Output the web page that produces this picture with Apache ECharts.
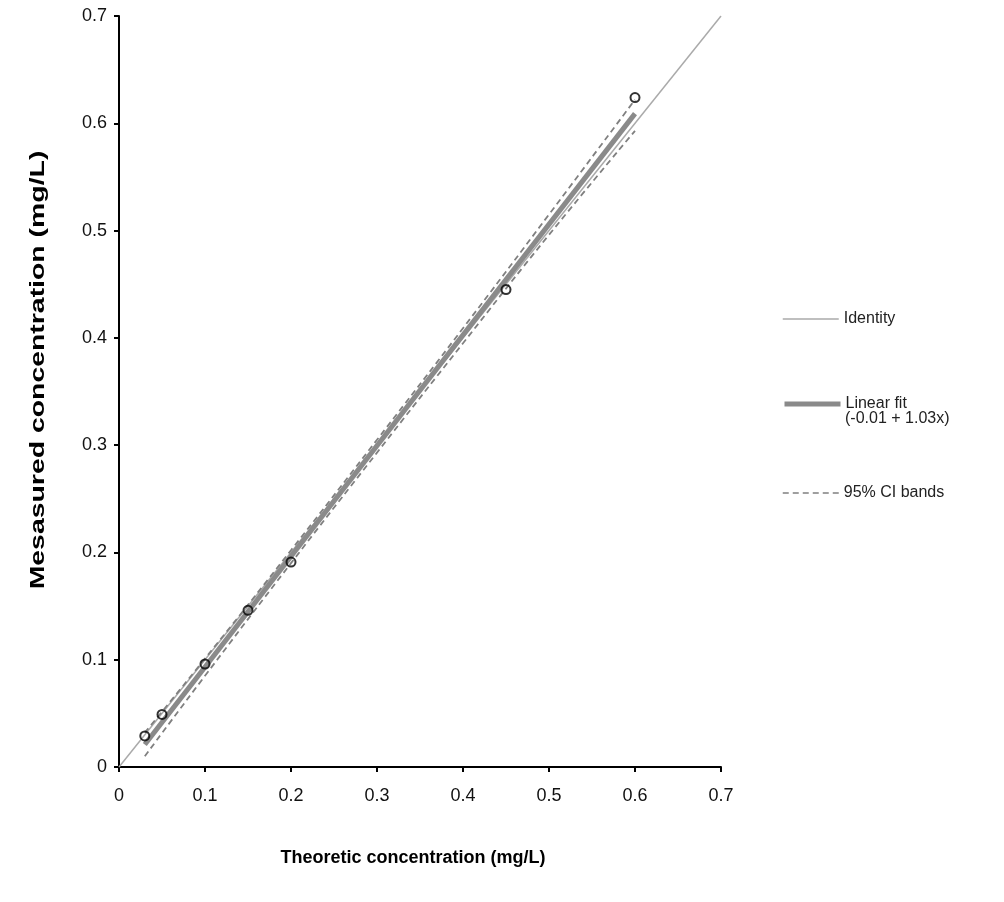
<!DOCTYPE html>
<html>
<head>
<meta charset="utf-8">
<script src="https://cdn.jsdelivr.net/npm/echarts@6/dist/echarts.min.js"></script>
<style>html,body{margin:0;padding:0;background:#fff}#c{width:1004px;height:902px}</style>
</head>
<body>
<div id="c"></div>
<script>
// Observed points
const theoretic = [0.03, 0.05, 0.10, 0.15, 0.20, 0.45, 0.60];
const measured  = [0.029, 0.049, 0.096, 0.146, 0.191, 0.445, 0.624];
// Identity line
const identityX = [0, 0.7];
const identityY = [0, 0.7];
// Linear fit and 95% CI bands
const fitX   = [0.03, 0.60];
const fitY   = [0.021, 0.609];
const ciX    = [0.03, 0.10, 0.20, 0.30, 0.40, 0.50, 0.60];
const ciUp   = [0.032, 0.101, 0.202, 0.305, 0.409, 0.515, 0.622];
const ciLow  = [0.010, 0.085, 0.190, 0.293, 0.395, 0.496, 0.593];
const ticks  = [0, 0.1, 0.2, 0.3, 0.4, 0.5, 0.6, 0.7];

const pair = (xs, ys) => xs.map((x, i) => [x, ys[i]]);
const FONT = "'Liberation Sans Narrow','Liberation Sans',Arial,sans-serif";
const FONTB = "'Liberation Sans',Arial,sans-serif";

const chart = echarts.init(document.getElementById('c'), null, {renderer: 'canvas'});
const axisCommon = {
  type: 'value', min: 0, max: 0.7, interval: 0.1,
  axisLine: {show: true, onZero: false, lineStyle: {color: '#000', width: 2}},
  axisTick: {show: true, inside: false, length: 5, lineStyle: {color: '#000', width: 2}},
  splitLine: {show: false},
  axisLabel: {color: '#111', fontSize: 18, fontFamily: FONTB,
    formatter: v => { const t = ticks.find(k => Math.abs(k - v) < 1e-9); return t === 0 ? '0' : String(+t.toFixed(1)); }}
};
const legendCommon = {left: 777, itemWidth: 56, itemHeight: 14,
  itemStyle: {opacity: 0},
  textStyle: {fontFamily: FONT, fontSize: 16, color: '#222'}};
chart.setOption({
  animation: false,
  backgroundColor: '#fff',
  grid: {left: 119, top: 16, right: 283, bottom: 135, containLabel: false},
  xAxis: Object.assign({}, axisCommon, {axisLabel: Object.assign({}, axisCommon.axisLabel, {margin: 20})}),
  yAxis: Object.assign({}, axisCommon, {axisLabel: Object.assign({}, axisCommon.axisLabel, {margin: 12})}),
  legend: [
    Object.assign({data: ['Identity'], top: 306, lineStyle: {width: 1.5}}, legendCommon),
    Object.assign({data: ['Linear fit'], top: 391, lineStyle: {width: 5}}, legendCommon),
    Object.assign({data: ['95% CI bands'], top: 480, lineStyle: {width: 1.5}}, legendCommon)
  ],
  graphic: [
    {type: 'text', left: 845, top: 411, style: {text: '(-0.01 + 1.03x)', fontFamily: FONT, fontSize: 16, fill: '#222'}},
    {type: 'text', x: 413, y: 858, style: {text: 'Theoretic concentration (mg/L)', fontFamily: FONTB, fontWeight: 'bold', fontSize: 18, fill: '#000', align: 'center', verticalAlign: 'middle'}},
    {type: 'text', x: 38, y: 370, rotation: Math.PI / 2, scaleX: 1.42,
     style: {text: 'Mesasured concentration (mg/L)', fontFamily: FONTB, fontWeight: 'bold', fontSize: 20, fill: '#000', align: 'center', verticalAlign: 'middle'}}
  ],
  series: [
    {name: 'Identity', type: 'line', data: pair(identityX, identityY), symbol: 'none',
     lineStyle: {color: '#aaaaaa', width: 1.5}, itemStyle: {color: '#aaaaaa'}, z: 2},
    {name: 'Linear fit', type: 'line', data: pair(fitX, fitY), symbol: 'none',
     lineStyle: {color: '#8a8a8a', width: 5}, itemStyle: {color: '#8a8a8a'}, z: 3},
    {name: '95% CI bands', type: 'line', data: pair(ciX, ciUp), symbol: 'none', smooth: true,
     lineStyle: {color: '#808080', width: 1.8, type: [6, 4]}, itemStyle: {color: '#808080'}, z: 4},
    {name: '95% CI bands', type: 'line', data: pair(ciX, ciLow), symbol: 'none', smooth: true,
     lineStyle: {color: '#808080', width: 1.8, type: [6, 4]}, itemStyle: {color: '#808080'}, z: 4},
    {name: 'Observed', type: 'scatter', data: pair(theoretic, measured), symbol: 'circle', symbolSize: 9,
     itemStyle: {color: 'rgba(255,255,255,0)', borderColor: '#000', borderWidth: 2}, z: 5}
  ]
});
</script>
</body>
</html>
